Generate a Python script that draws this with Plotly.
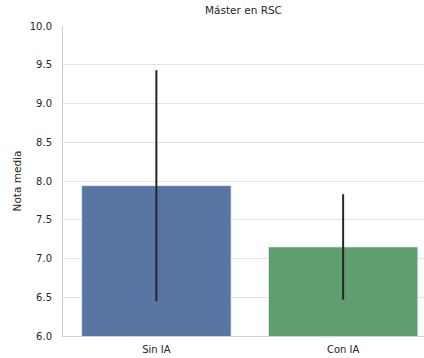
import plotly.graph_objects as go

categories = ["Sin IA", "Con IA"]
means = [7.94, 7.15]
err = [1.49, 0.68]
colors = ["#5975a4", "#5f9e6e"]
yticks = [6.0, 6.5, 7.0, 7.5, 8.0, 8.5, 9.0, 9.5, 10.0]

fig = go.Figure()
fig.add_trace(go.Bar(
    x=[0, 1], y=means, width=0.8,
    marker=dict(color=colors, line=dict(color="#eaeaf2", width=0.8)),
    error_y=dict(type="data", array=err, color="#262626", thickness=2, width=0),
))
fig.update_layout(
    width=424, height=358,
    margin=dict(l=63, r=0, t=26, b=22),
    paper_bgcolor="white", plot_bgcolor="white",
    font=dict(family="DejaVu Sans", size=10, color="#262626"),
    title=dict(text="Máster en RSC", x=0.5, xref="paper", xanchor="center",
               y=1, yref="container", yanchor="top", pad=dict(t=7),
               font=dict(size=10.5, color="#262626")),
    showlegend=False,
    bargap=0.2,
)
fig.update_xaxes(range=[-0.5, 1.433], tickvals=[0, 1], ticktext=categories,
                 showgrid=False, showline=True, linecolor="#d0d0d0", linewidth=1,
                 zeroline=False, ticks="", ticklabelstandoff=4,
                 tickfont=dict(size=10, color="#262626"))
fig.update_yaxes(range=[6, 10], tickvals=yticks, tickformat=".1f",
                 showgrid=True, gridcolor="#e3e3e3", gridwidth=1,
                 showline=True, linecolor="#d0d0d0", linewidth=1,
                 zeroline=False, ticks="", ticklabelstandoff=8,
                 title=dict(text="Nota media", standoff=6, font=dict(size=10.5)),
                 tickfont=dict(size=10, color="#262626"))
fig.write_html("out.html", config={"displayModeBar": False},
               post_script="document.body.style.margin='0';document.body.style.overflow='hidden';")
